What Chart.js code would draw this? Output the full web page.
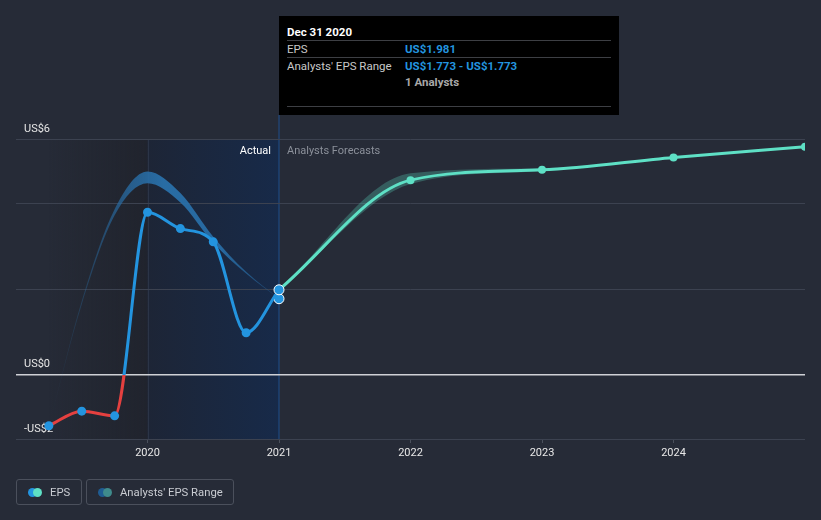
<!DOCTYPE html>
<html>
<head>
<meta charset="utf-8">
<script src="https://cdn.jsdelivr.net/npm/chart.js@4.4.1/dist/chart.umd.min.js"></script>
<style>
  html, body { margin:0; padding:0; background:#262b37; }
  #wrap { position:relative; width:821px; height:520px; overflow:hidden; font-family: Roboto, "Open Sans", sans-serif; }
  canvas { position:absolute; left:0; top:0; }
  #tip { position:absolute; left:279px; top:16px; width:340px; height:99px; background:#000; color:#c9c9c9; font-size:11.5px; }
  #tip .t { position:absolute; white-space:nowrap; line-height:12px; }
  #tip .hr { position:absolute; left:8px; width:324px; height:1px; background:#3d3f44; }
  .legend { position:absolute; top:479px; height:26px; border:1px solid #4b505c; border-radius:3px; box-sizing:border-box; color:#c9ccd2; font-size:11.3px; }
  .legend .dot { position:absolute; top:8px; width:9px; height:9px; border-radius:50%; }
  .legend .lbl { position:absolute; top:6px; line-height:13px; white-space:nowrap; }
</style>
</head>
<body>
<div id="wrap">
  <canvas id="c" width="821" height="520"></canvas>
  <div id="tip">
    <div class="t" style="left:8px;top:10px;color:#fff;font-weight:bold;">Dec 31 2020</div>
    <div class="hr" style="top:24px"></div>
    <div class="t" style="left:8px;top:27px;">EPS</div>
    <div class="t" style="left:126px;top:27px;color:#2394df;font-weight:bold;">US$1.981</div>
    <div class="hr" style="top:41px"></div>
    <div class="t" style="left:8px;top:44px;">Analysts' EPS Range</div>
    <div class="t" style="left:126px;top:44px;color:#2394df;font-weight:bold;">US$1.773 - US$1.773</div>
    <div class="t" style="left:126px;top:60px;color:#a8a8a8;font-weight:bold;">1 Analysts</div>
    <div class="hr" style="top:90px"></div>
  </div>
  <div class="legend" style="left:16px;width:66px;">
    <div class="dot" style="left:11px;background:#2394df;"></div>
    <div class="dot" style="left:16px;background:#5ee0c5;"></div>
    <div class="lbl" style="left:33px;">EPS</div>
  </div>
  <div class="legend" style="left:86px;width:148px;">
    <div class="dot" style="left:11px;background:#1f5c92;"></div>
    <div class="dot" style="left:16px;background:#3f8b8c;"></div>
    <div class="lbl" style="left:33px;">Analysts' EPS Range</div>
  </div>
</div>
<script>
// ---- data ----
const epsYears      = [2019.25, 2019.5, 2019.75, 2020.0, 2020.25, 2020.5, 2020.75, 2021.0];
const epsValues     = [-1.19, -0.85, -0.96, 3.79, 3.41, 3.10, 0.98, 1.981];

const forecastYears  = [2021.0, 2022.0, 2023.0, 2024.0, 2025.0];
const forecastValues = [1.981, 4.54, 4.78, 5.07, 5.32];

const pastRangeYears = [2019.25, 2019.5, 2019.75, 2020.0, 2020.25, 2020.5, 2020.75, 2021.0];
const pastRangeHigh  = [-1.20, 1.72, 3.86, 4.74, 4.24, 3.22, 2.40, 1.773];
const pastRangeLow   = [-1.20, 1.64, 3.72, 4.47, 4.02, 3.08, 2.36, 1.773];

const fcRangeYears = [2021.0, 2022.0, 2023.0, 2024.0, 2025.0];
const fcRangeHigh  = [1.981, 4.70, 4.82, 5.08, 5.33];
const fcRangeLow   = [1.981, 4.45, 4.75, 5.06, 5.31];

const xTickYears  = [2020, 2021, 2022, 2023, 2024];
const xTickLabels = ['2020', '2021', '2022', '2023', '2024'];
const yGridValues = [-1.5, 0, 2, 4, 5.5];
const yTickLabels = ['-US$2', 'US$0', '', '', 'US$6'];

const X_MIN = 2019, X_MAX = 2025, Y_MIN = -1.5, Y_MAX = 5.5;
const ACTUAL_START = 2020, ACTUAL_END = 2021;

const BLUE = '#2394df', RED = '#e5403f', TEAL = '#5ee0c5';

const pts = (xs, ys) => xs.map((x, i) => ({x: x, y: ys[i]}));

// background regions plugin
const bgPlugin = {
  id: 'bgRegions',
  beforeDraw(chart) {
    const {ctx, chartArea: a, scales: {x}} = chart;
    const x0 = x.getPixelForValue(epsYears[0]);
    const x1 = x.getPixelForValue(ACTUAL_START);
    const x2 = x.getPixelForValue(ACTUAL_END);
    ctx.save();
    let g = ctx.createLinearGradient(x0, 0, x1, 0);
    g.addColorStop(0, 'rgba(28,30,38,0)');
    g.addColorStop(1, 'rgba(28,30,38,0.55)');
    ctx.fillStyle = g;
    ctx.fillRect(x0, a.top, x1 - x0, a.bottom - a.top);
    g = ctx.createLinearGradient(x1, 0, x2, 0);
    g.addColorStop(0, '#1d2536');
    g.addColorStop(1, '#172a49');
    ctx.fillStyle = g;
    ctx.fillRect(x1, a.top, x2 - x1, a.bottom - a.top);
    // vertical lines
    ctx.fillStyle = '#2b3447';
    ctx.fillRect(Math.round(x1), a.top, 1, a.bottom - a.top);
    ctx.fillStyle = '#1f4f8c';
    ctx.fillRect(Math.round(x2) - 0.5, 115, 1, a.bottom - 115);
    // labels
    ctx.font = '11px Roboto, sans-serif';
    ctx.textBaseline = 'middle';
    ctx.textAlign = 'right';
    ctx.fillStyle = '#ffffff';
    ctx.fillText('Actual', x2 - 8, a.top + 12);
    ctx.textAlign = 'left';
    ctx.fillStyle = '#8b909a';
    ctx.fillText('Analysts Forecasts', x2 + 8, a.top + 12);
    ctx.restore();
  }
};

function epsStroke(ctx) {
  const chart = ctx.chart;
  const a = chart.chartArea;
  if (!a) return BLUE;
  const y0 = chart.scales.y.getPixelForValue(0);
  const s = Math.min(1, Math.max(0, (y0 - a.top) / (a.bottom - a.top)));
  const g = chart.ctx.createLinearGradient(0, a.top, 0, a.bottom);
  g.addColorStop(0, BLUE); g.addColorStop(s, BLUE);
  g.addColorStop(s, RED); g.addColorStop(1, RED);
  return g;
}

function pastBandFill(ctx) {
  const chart = ctx.chart;
  const a = chart.chartArea;
  if (!a) return 'rgba(41,112,170,0.9)';
  const x = chart.scales.x;
  const xa = x.getPixelForValue(pastRangeYears[0]);
  const xb = x.getPixelForValue(pastRangeYears[pastRangeYears.length - 1]);
  const g = chart.ctx.createLinearGradient(xa, 0, xb, 0);
  g.addColorStop(0, 'rgba(41,112,170,0)');
  g.addColorStop(0.35, 'rgba(41,112,170,0.75)');
  g.addColorStop(0.5, 'rgba(41,112,170,0.95)');
  g.addColorStop(0.75, 'rgba(41,112,170,0.9)');
  g.addColorStop(1, 'rgba(41,112,170,0.35)');
  return g;
}

const lastIdx = epsYears.length - 1;

new Chart(document.getElementById('c'), {
  type: 'line',
  data: {
    datasets: [
      {
        label: 'EPS', data: pts(epsYears, epsValues), order: 0,
        borderColor: epsStroke, borderWidth: 3, cubicInterpolationMode: 'monotone',
        pointRadius: c => c.dataIndex === lastIdx ? 5 : 4.5,
        pointBackgroundColor: BLUE,
        pointBorderColor: c => c.dataIndex === lastIdx ? '#ffffff' : BLUE,
        pointBorderWidth: c => c.dataIndex === lastIdx ? 1 : 0,
        fill: false
      },
      {
        label: 'EPS forecast', data: pts(forecastYears, forecastValues), order: 1,
        borderColor: TEAL, borderWidth: 3, cubicInterpolationMode: 'monotone',
        pointRadius: c => c.dataIndex === 0 ? 0 : 4, pointBackgroundColor: TEAL, pointBorderWidth: 0,
        fill: false
      },
      {
        label: 'Range high past', data: pts(pastRangeYears, pastRangeHigh), order: 3,
        borderWidth: 0, borderColor: 'rgba(0,0,0,0)', pointRadius: 0,
        cubicInterpolationMode: 'monotone', fill: '+1', backgroundColor: pastBandFill
      },
      {
        label: 'Range low past', data: pts(pastRangeYears, pastRangeLow), order: 3,
        borderWidth: 0, borderColor: 'rgba(0,0,0,0)',
        pointRadius: c => c.dataIndex === pastRangeYears.length - 1 ? 5 : 0,
        pointBackgroundColor: BLUE, pointBorderColor: '#ffffff', pointBorderWidth: 1,
        cubicInterpolationMode: 'monotone', fill: false
      },
      {
        label: 'Range high fc', data: pts(fcRangeYears, fcRangeHigh), order: 4,
        borderWidth: 0, borderColor: 'rgba(0,0,0,0)', pointRadius: 0,
        cubicInterpolationMode: 'monotone', fill: '+1', backgroundColor: 'rgba(94,224,197,0.28)'
      },
      {
        label: 'Range low fc', data: pts(fcRangeYears, fcRangeLow), order: 4,
        borderWidth: 0, borderColor: 'rgba(0,0,0,0)', pointRadius: 0,
        cubicInterpolationMode: 'monotone', fill: false
      }
    ]
  },
  options: {
    responsive: false, animation: false, devicePixelRatio: 1,
    layout: { padding: { top: 139, left: 16, right: 16, bottom: 0 } },
    plugins: { legend: { display: false }, tooltip: { enabled: false } },
    events: [],
    scales: {
      x: {
        type: 'linear', min: X_MIN, max: X_MAX,
        afterBuildTicks: s => { s.ticks = xTickYears.map(v => ({value: v})); },
        afterFit: s => { s.height = 81; },
        border: { display: false },
        grid: { drawOnChartArea: false, drawTicks: true, tickLength: 4, color: '#4a505c' },
        ticks: {
          padding: 4, color: '#e8e8e8', font: { family: 'Roboto', size: 11 },
          maxRotation: 0, autoSkip: false,
          callback: v => { const i = xTickYears.indexOf(v); return i >= 0 ? xTickLabels[i] : ''; }
        }
      },
      y: {
        type: 'linear', min: Y_MIN, max: Y_MAX,
        afterBuildTicks: s => { s.ticks = yGridValues.map(v => ({value: v})); },
        afterFit: s => { s.width = 0; },
        border: { display: false },
        grid: {
          drawTicks: false,
          color: c => c.tick && c.tick.value === 0 ? '#cfd1d6' : '#3c4250',
          lineWidth: c => c.tick && c.tick.value === 0 ? 1.5 : 1
        },
        ticks: {
          mirror: true, padding: 8, labelOffset: -10, color: '#e6e6e6',
          font: { family: 'Roboto', size: 11 },
          callback: v => { const i = yGridValues.indexOf(v); return i >= 0 ? yTickLabels[i] : ''; }
        }
      }
    }
  },
  plugins: [bgPlugin]
});
</script>
</body>
</html>
